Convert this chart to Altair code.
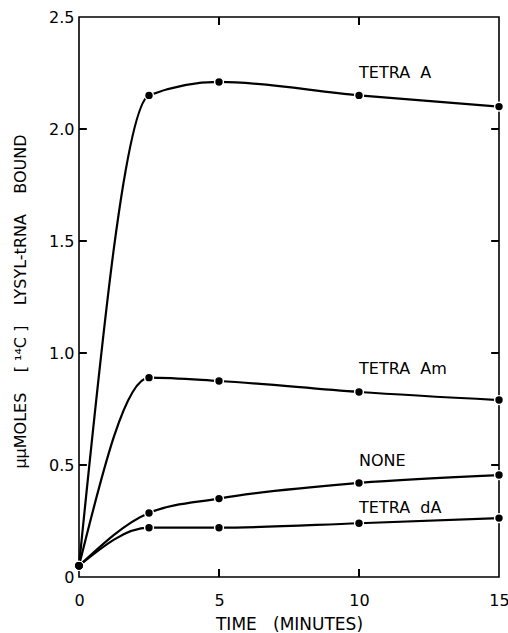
import altair as alt
import pandas as pd

# ---- data ----
times = [0, 2.5, 5, 10, 15]
tetra_a = [0.05, 2.15, 2.21, 2.15, 2.10]
tetra_am = [0.05, 0.89, 0.875, 0.826, 0.79]
none_ = [0.05, 0.286, 0.35, 0.42, 0.455]
tetra_da = [0.05, 0.22, 0.22, 0.24, 0.263]
series_names = ["TETRA A", "TETRA Am", "NONE", "TETRA dA"]
series_values = [tetra_a, tetra_am, none_, tetra_da]

NB = "\u00a0"
# annotation anchors (data units)
label_text = ["TETRA" + NB * 2 + "A", "TETRA" + NB * 2 + "Am", "NONE", "TETRA" + NB * 2 + "dA"]
label_x = [10, 10, 10, 10]
label_y = [2.25, 0.93, 0.52, 0.31]

x_ticks = [0, 5, 10, 15]
y_ticks = [0, 0.5, 1.0, 1.5, 2.0, 2.5]
x_inner_ticks = [5, 10]
y_inner_ticks = [0.5, 1.0, 1.5, 2.0]

rows = []
for name, vals in zip(series_names, series_values):
    for t, v in zip(times, vals):
        rows.append({"series": name, "time": t, "value": v})
df = pd.DataFrame(rows)
labels_df = pd.DataFrame({"text": label_text, "x": label_x, "y": label_y})

X_MIN, X_MAX = 0, 15
Y_MIN, Y_MAX = 0, 2.5
tick_len_x = 0.28
tick_len_y = 0.036

# inward tick marks, built from tick values and axis limits
xt_rows = []
for t in x_inner_ticks:
    xt_rows.append({"t": t, "a": Y_MIN, "b": Y_MIN + tick_len_y})
    xt_rows.append({"t": t, "a": Y_MAX, "b": Y_MAX - tick_len_y})
xt_df = pd.DataFrame(xt_rows)
yt_rows = []
for v in y_inner_ticks:
    yt_rows.append({"v": v, "a": X_MIN, "b": X_MIN + tick_len_x})
    yt_rows.append({"v": v, "a": X_MAX, "b": X_MAX - tick_len_x})
yt_df = pd.DataFrame(yt_rows)

FONT = "DejaVu Sans"

xscale = alt.Scale(domain=[X_MIN, X_MAX], nice=False, zero=False)
yscale = alt.Scale(domain=[Y_MIN, Y_MAX], nice=False)

x_enc = alt.X(
    "time:Q",
    scale=xscale,
    axis=alt.Axis(
        values=x_ticks,
        title="TIME" + NB * 3 + "(MINUTES)",
        titleFontSize=17,
        titleFontWeight="normal",
        titleFont=FONT,
        titleColor="black",
        titlePadding=8,
        labelFontSize=16,
        labelFont=FONT,
        labelColor="black",
        labelPadding=15,
        tickSize=0,
        domain=False,
        grid=False,
        labelFlush=False,
    ),
)
y_enc = alt.Y(
    "value:Q",
    scale=yscale,
    axis=alt.Axis(
        values=y_ticks,
        labelExpr="datum.value == 0 ? '0' : format(datum.value, '.1f')",
        title="μμMOLES" + NB * 4 + "[" + NB + "¹⁴C" + NB + "]" + NB * 4 + "LYSYL-tRNA" + NB * 4 + "BOUND",
        titleFontSize=16,
        titleFontWeight="normal",
        titleFont=FONT,
        titleColor="black",
        titleX=-59,
        titleY=284,
        titleBaseline="middle",
        labelFontSize=16,
        labelFont=FONT,
        labelColor="black",
        labelPadding=5,
        tickSize=0,
        domain=False,
        grid=False,
        labelFlush=False,
    ),
)

base = alt.Chart(df)

lines = base.mark_line(
    color="black", strokeWidth=2.2, interpolate="monotone"
).encode(x=x_enc, y=y_enc, detail="series:N")

points = base.mark_point(
    filled=True, color="black", size=60, opacity=1,
    stroke="white", strokeWidth=2.5, strokeOpacity=1
).encode(x="time:Q", y="value:Q")

points2 = base.mark_circle(color="black", size=55, opacity=1).encode(
    x="time:Q", y="value:Q"
)

texts = alt.Chart(labels_df).mark_text(
    align="left", baseline="middle", font=FONT, fontSize=16, color="black"
).encode(x="x:Q", y="y:Q", text="text:N")

v_ticks = alt.Chart(xt_df).mark_rule(color="black", strokeWidth=2).encode(
    x="t:Q", y="a:Q", y2="b:Q"
)
h_ticks = alt.Chart(yt_df).mark_rule(color="black", strokeWidth=2).encode(
    y="v:Q", x="a:Q", x2="b:Q"
)

chart = alt.layer(
    lines, points, points2, texts, v_ticks, h_ticks
).properties(
    width=420,
    height=560,
    autosize=alt.AutoSizeParams(type="none"),
    padding={"left": 79, "top": 17, "right": 9, "bottom": 56},
    background="white",
).configure_view(
    stroke="black", strokeWidth=1.6
)

chart.save("out.html", embed_options={"renderer": "svg", "actions": False})
